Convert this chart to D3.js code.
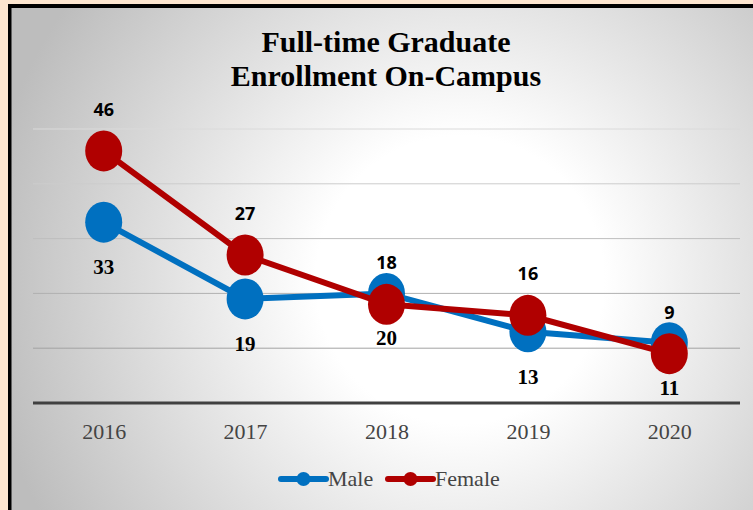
<!DOCTYPE html>
<html>
<head>
<meta charset="utf-8">
<script src="https://cdn.jsdelivr.net/npm/d3@7"></script>
<style>
  html, body { margin: 0; padding: 0; background: #fde6d0; }
  #container { width: 753px; height: 510px; }
</style>
</head>
<body>
<div id="container"></div>
<script>
var years = ["2016", "2017", "2018", "2019", "2020"]
var male = [33, 19, 20, 13, 11]
var female = [46, 27, 18, 16, 9]
var yTicks = [10, 20, 30, 40, 50]
var titleLines = ["Full-time Graduate", "Enrollment On-Campus"]

var W = 753, H = 510

var svg = d3.select("#container").append("svg")
    .attr("width", W)
    .attr("height", H)

var defs = svg.append("defs")
var grad = defs.append("radialGradient")
    .attr("id", "bg")
    .attr("gradientUnits", "userSpaceOnUse")
    .attr("cx", 460).attr("cy", 280).attr("r", 480)
grad.append("stop").attr("offset", "0%").attr("stop-color", "#ffffff")
grad.append("stop").attr("offset", "30%").attr("stop-color", "#ffffff")
grad.append("stop").attr("offset", "100%").attr("stop-color", "#bdbdbd")

// frame
svg.append("rect")
    .attr("x", 8).attr("y", 4)
    .attr("width", W).attr("height", H)
    .attr("fill", "#000")
svg.append("rect")
    .attr("x", 11.5).attr("y", 8)
    .attr("width", W).attr("height", H)
    .attr("fill", "url(#bg)")

var x = d3.scalePoint().domain(years).range([33, 740]).padding(0.5)
var y = d3.scaleLinear().domain([0, 50]).range([403, 129])

// gridlines
var gridColor = d3.scaleLinear().domain([10, 50]).range(["#a2a2a2", "#dadada"])
svg.append("g").selectAll("line")
  .data(yTicks)
  .join("line")
    .attr("x1", 33).attr("x2", 740)
    .attr("y1", d => y(d)).attr("y2", d => y(d))
    .attr("stroke", d => gridColor(d))
    .attr("stroke-width", 1)

// baseline
svg.append("line")
    .attr("x1", 33).attr("x2", 740)
    .attr("y1", y(0)).attr("y2", y(0))
    .attr("stroke", "#404040")
    .attr("stroke-width", 3)

// x axis labels
var xAxis = svg.append("g")
    .attr("transform", "translate(0," + y(0) + ")")
    .call(d3.axisBottom(x).tickSize(0).tickPadding(20))
xAxis.select(".domain").remove()
xAxis.selectAll("text")
    .attr("font-family", "Liberation Serif")
    .attr("font-size", "22px")
    .attr("fill", "#444")

// title
svg.append("text")
    .attr("x", 386)
    .attr("font-family", "Liberation Serif")
    .attr("font-weight", "bold")
    .attr("font-size", "30px")
    .attr("fill", "#000")
    .attr("text-anchor", "middle")
    .selectAll("tspan")
    .data(titleLines)
    .join("tspan")
      .attr("x", 386)
      .attr("y", (d, i) => 52 + i * 34)
      .text(d => d)

function series(values, colour, labelDy, labelFont, labelSize) {
  var g = svg.append("g")
  var line = d3.line()
      .x((d, i) => x(years[i]))
      .y(d => y(d))
  g.append("path")
      .datum(values)
      .attr("d", line)
      .attr("fill", "none")
      .attr("stroke", colour)
      .attr("stroke-width", 6)
  g.selectAll("ellipse")
    .data(values)
    .join("ellipse")
      .attr("cx", (d, i) => x(years[i]))
      .attr("cy", d => y(d))
      .attr("rx", 18.5)
      .attr("ry", 20.5)
      .attr("fill", colour)
  g.selectAll("text")
    .data(values)
    .join("text")
      .attr("x", (d, i) => x(years[i]))
      .attr("y", d => y(d) + labelDy)
      .attr("text-anchor", "middle")
      .attr("dominant-baseline", "central")
      .attr("font-family", labelFont)
      .attr("font-weight", "bold")
      .attr("font-size", labelSize)
      .attr("fill", "#000")
      .text(d => d)
}

series(male, "#0070c0", 45, "Liberation Serif", "21px")
series(female, "#b00000", -42, "Open Sans", "18px")

// legend
var legend = svg.append("g")
var items = [["Male", "#0070c0", 281], ["Female", "#b00000", 388]]
items.forEach(function(it) {
  var lg = legend.append("g").attr("transform", "translate(" + it[2] + ",479)")
  lg.append("line")
      .attr("x1", 0).attr("x2", 45)
      .attr("stroke", it[1])
      .attr("stroke-width", 6)
      .attr("stroke-linecap", "round")
  lg.append("circle")
      .attr("cx", 22.5).attr("r", 7)
      .attr("fill", it[1])
  lg.append("text")
      .attr("x", 47).attr("y", 7)
      .attr("font-family", "Liberation Serif")
      .attr("font-size", "22px")
      .attr("fill", "#444")
      .text(it[0])
})
</script>
</body>
</html>
